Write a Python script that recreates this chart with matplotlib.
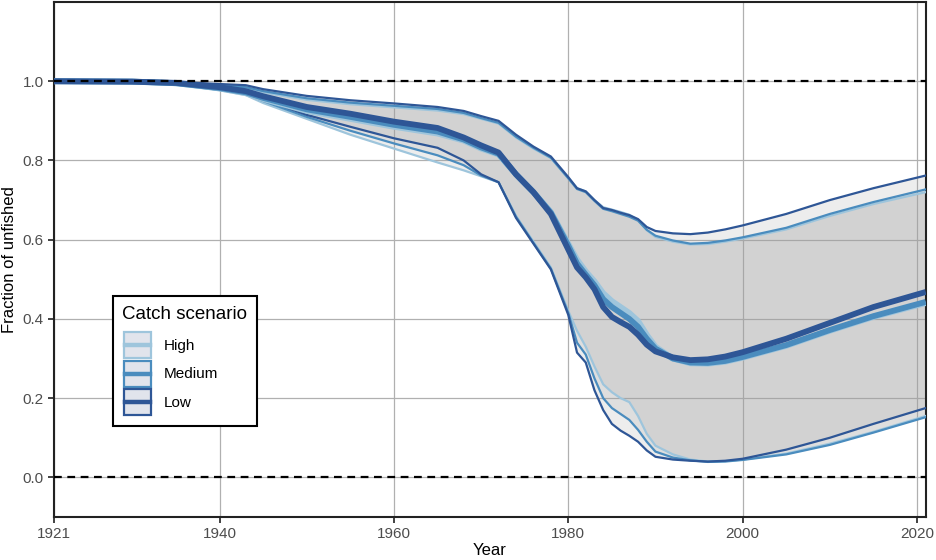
import matplotlib.pyplot as plt
from matplotlib.patches import Rectangle
from matplotlib.lines import Line2D

plt.rcParams['font.family'] = ['Liberation Sans', 'DejaVu Sans']

years = [1921, 1930, 1935, 1940, 1943, 1945, 1950, 1955, 1960, 1965, 1968, 1970, 1972,
         1974, 1976, 1978, 1980, 1981, 1982, 1983, 1984, 1985, 1986, 1987, 1988, 1989,
         1990, 1992, 1994, 1996, 1998, 2000, 2005, 2010, 2015, 2021]

# Low catch scenario
low_med = [1.0, 0.999, 0.996, 0.985, 0.975, 0.962, 0.935, 0.918, 0.898, 0.882, 0.858, 0.838, 0.82,
           0.765, 0.72, 0.665, 0.575, 0.53, 0.505, 0.475, 0.43, 0.405, 0.392, 0.38, 0.36, 0.335,
           0.318, 0.303, 0.296, 0.298, 0.305, 0.316, 0.35, 0.39, 0.43, 0.468]
low_up = [1.0, 1.0, 0.998, 0.993, 0.99, 0.98, 0.963, 0.952, 0.944, 0.935, 0.925, 0.912, 0.9,
          0.865, 0.835, 0.81, 0.758, 0.73, 0.722, 0.7, 0.68, 0.675, 0.668, 0.662, 0.652, 0.632,
          0.622, 0.616, 0.614, 0.618, 0.626, 0.636, 0.665, 0.7, 0.73, 0.762]
low_lo = [1.0, 0.998, 0.994, 0.98, 0.972, 0.955, 0.915, 0.885, 0.856, 0.832, 0.8, 0.765, 0.745,
          0.655, 0.59, 0.525, 0.41, 0.315, 0.29, 0.22, 0.17, 0.135, 0.118, 0.105, 0.09, 0.068,
          0.052, 0.045, 0.042, 0.04, 0.042, 0.047, 0.07, 0.1, 0.135, 0.175]

# Medium catch scenario
med_med = [1.0, 0.999, 0.995, 0.983, 0.972, 0.958, 0.929, 0.91, 0.89, 0.873, 0.853, 0.833, 0.817,
           0.765, 0.72, 0.668, 0.585, 0.54, 0.512, 0.485, 0.45, 0.43, 0.415, 0.4, 0.38, 0.35,
           0.325, 0.3, 0.29, 0.289, 0.294, 0.304, 0.334, 0.372, 0.407, 0.443]
med_up = [1.0, 1.0, 0.997, 0.99, 0.985, 0.975, 0.957, 0.946, 0.938, 0.93, 0.92, 0.907, 0.895,
          0.86, 0.832, 0.807, 0.755, 0.728, 0.72, 0.698, 0.678, 0.672, 0.665, 0.658, 0.648, 0.625,
          0.61, 0.598, 0.59, 0.592, 0.598, 0.606, 0.63, 0.665, 0.695, 0.727]
med_lo = [1.0, 0.997, 0.993, 0.978, 0.968, 0.95, 0.91, 0.875, 0.843, 0.813, 0.788, 0.762, 0.745,
          0.658, 0.592, 0.527, 0.415, 0.34, 0.31, 0.25, 0.2, 0.175, 0.16, 0.145, 0.12, 0.09,
          0.065, 0.05, 0.043, 0.039, 0.04, 0.044, 0.058, 0.082, 0.113, 0.152]

# High catch scenario
high_med = [1.0, 0.999, 0.995, 0.982, 0.97, 0.955, 0.925, 0.905, 0.885, 0.868, 0.85, 0.83, 0.815,
            0.765, 0.72, 0.67, 0.59, 0.55, 0.52, 0.495, 0.465, 0.445, 0.43, 0.415, 0.395, 0.36,
            0.33, 0.3, 0.288, 0.287, 0.292, 0.302, 0.332, 0.37, 0.405, 0.44]
high_up = [1.0, 1.0, 0.997, 0.989, 0.983, 0.972, 0.953, 0.942, 0.934, 0.926, 0.917, 0.905, 0.893,
           0.858, 0.83, 0.806, 0.755, 0.73, 0.722, 0.7, 0.682, 0.676, 0.67, 0.663, 0.65, 0.624,
           0.607, 0.595, 0.588, 0.589, 0.595, 0.603, 0.626, 0.66, 0.69, 0.72]
high_lo = [1.0, 0.997, 0.992, 0.977, 0.965, 0.945, 0.905, 0.865, 0.83, 0.795, 0.775, 0.76, 0.745,
           0.66, 0.595, 0.53, 0.42, 0.37, 0.33, 0.28, 0.235, 0.215, 0.2, 0.19, 0.155, 0.11,
           0.08, 0.058, 0.045, 0.04, 0.041, 0.045, 0.06, 0.085, 0.115, 0.155]

scenarios = ['High', 'Medium', 'Low']
colors = ['#9ec5dc', '#4a8cbe', '#2e5696']
medians = [high_med, med_med, low_med]
uppers = [high_up, med_up, low_up]
lowers = [high_lo, med_lo, low_lo]


class KeyHandler:
    # square key: light fill, coloured border, thick line through the middle
    def legend_artist(self, legend, orig_handle, fontsize, handlebox):
        x0, y0 = -handlebox.xdescent, -handlebox.ydescent
        w, h = handlebox.width, handlebox.height
        c = orig_handle.get_color()
        tr = handlebox.get_transform()
        rect = Rectangle((x0 + 1, y0 + 1), w - 2, h - 2, facecolor='#e1e4ec', edgecolor=c,
                         lw=1.6, transform=tr)
        line = Line2D([x0 + 2, x0 + w - 2], [y0 + h / 2, y0 + h / 2], color=c, lw=3.2,
                      transform=tr)
        handlebox.add_artist(rect)
        handlebox.add_artist(line)
        return rect


fig = plt.figure(figsize=(9.36, 5.6), dpi=100)
ax = fig.add_axes([0.0577, 0.0768, 0.9313, 0.9196])

for lo, up in zip(lowers, uppers):
    ax.fill_between(years, lo, up, color='#a0a0a0', alpha=0.19, lw=0, zorder=1)

for c, med, lo, up in zip(colors, medians, lowers, uppers):
    ax.plot(years, up, color=c, lw=1.6, zorder=3)
    ax.plot(years, lo, color=c, lw=1.6, zorder=3)
    ax.plot(years, med, color=c, lw=4.2, zorder=4, solid_capstyle='butt')

for yv in [0, 1]:
    ax.axhline(yv, color='black', lw=1.6, ls=(0, (3.5, 2.5)), zorder=6)

ax.set_xlim(1921, 2021)
ax.set_ylim(-0.1, 1.2)
ax.set_xticks([1921, 1940, 1960, 1980, 2000, 2020])
ax.set_yticks([0.0, 0.2, 0.4, 0.6, 0.8, 1.0])
ax.set_yticklabels(['0.0', '0.2', '0.4', '0.6', '0.8', '1.0'])
ax.grid(True, color='#b0b0b0', lw=0.9, zorder=0)
ax.set_axisbelow(True)
for s in ax.spines.values():
    s.set_color('#222222')
    s.set_linewidth(1.5)
ax.tick_params(colors='#333333', labelcolor='#4d4d4d', labelsize=11, length=4, width=1.3)
ax.set_xlabel('Year', fontsize=12, labelpad=1)
ax.set_ylabel('Fraction of unfished', fontsize=12, labelpad=4)

handles = [Line2D([], [], color=c) for c in colors]
leg = ax.legend(handles, scenarios, handler_map={Line2D: KeyHandler()},
                title='Catch scenario', title_fontsize=13.5, fontsize=11,
                loc='upper left', bbox_to_anchor=(0.0677, 0.429), borderaxespad=0,
                handlelength=1.95, handleheight=2.5, labelspacing=0.0, handletextpad=0.75,
                borderpad=0.62, fancybox=False, framealpha=1, edgecolor='black')
leg.get_frame().set_linewidth(1.5)
leg._legend_box.align = 'left'
leg._legend_box.sep = 6
leg.set_zorder(10)

fig.savefig('out.png', dpi=100)
